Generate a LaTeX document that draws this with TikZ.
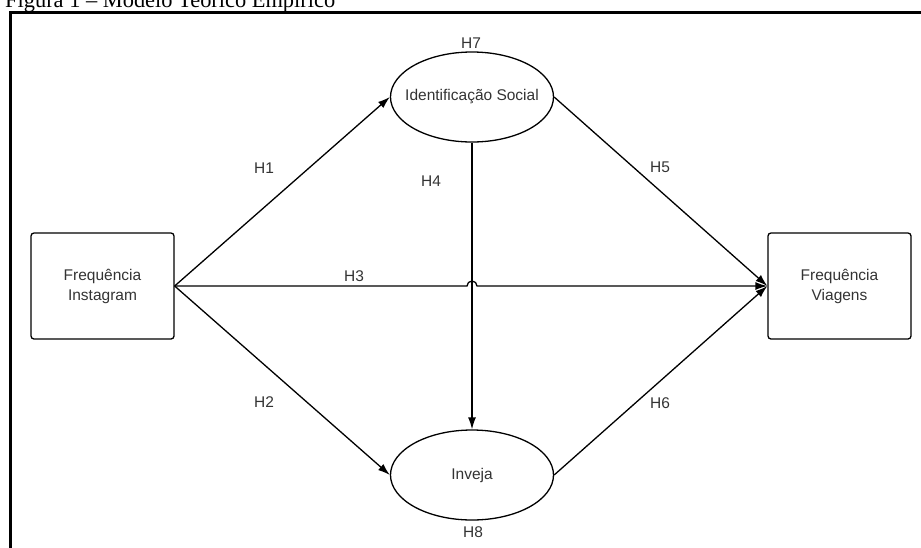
\documentclass[tikz,border=0pt]{standalone}
\usepackage{fontspec}
\setmainfont{Liberation Serif}
\setsansfont{Liberation Sans}
\usetikzlibrary{shapes.geometric, arrows.meta, positioning, calc}

\begin{document}
\begin{tikzpicture}[x=1pt, y=-1pt,
  every node/.style={font=\sffamily\fontsize{15.5}{20}\selectfont, text=black!80},
  varbox/.style={draw, line width=1.3pt, rounded corners=3pt, minimum width=143pt, minimum height=106pt, align=center, inner sep=0pt},
  varell/.style={draw, line width=1.3pt, ellipse, minimum width=163pt, minimum height=90pt, inner sep=0pt, inner xsep=-30pt},
  hyp/.style={line width=1.3pt, -{Latex[length=12pt, width=8pt]}}]
\useasboundingbox (0,0) rectangle (921,547);
\clip (0,0) rectangle (921,547);

% Title and frame (cut off by the page)
\node[anchor=base west, inner sep=0pt, text=black, font=\rmfamily\fontsize{22.4}{26}\selectfont] (title) at (5,7.5) {Figura 1 – Modelo Teórico Empírico};
\draw[line width=2.8pt] (10.7,560) -- (10.7,12.5) -- (935,12.5);

% Constructs
\node[varbox] (fi) at (102.5,286) {Frequência\\Instagram};
\node[varbox] (fv) at (839.5,286) {Frequência\\Viagens};
\node[varell] (is) at (472,97) {Identificação Social};
\node[varell] (iv) at (472,475) {Inveja};

% Hypotheses
\draw[hyp] (fi.east) -- (is.west);
\draw[hyp] (fi.east) -- (iv.west);
\draw[hyp] (is.south) -- (iv.north);
\draw[hyp] (fi.east) -- ($(fi.east -| is.south)+(-5,0)$) arc[start angle=180, end angle=0, radius=5pt] -- (fv.west);
\draw[hyp] (is.east) -- (fv.west);
\draw[hyp] (iv.east) -- (fv.west);

% Labels
\node (h1) at (264,168) {H1};
\node (h2) at (264,402) {H2};
\node (h3) at (354,276) {H3};
\node (h4) at (431,181) {H4};
\node (h5) at (660,167) {H5};
\node (h6) at (660,403) {H6};
\node (h7) at (471,43) {H7};
\node (h8) at (473,532) {H8};
\end{tikzpicture}
\end{document}
